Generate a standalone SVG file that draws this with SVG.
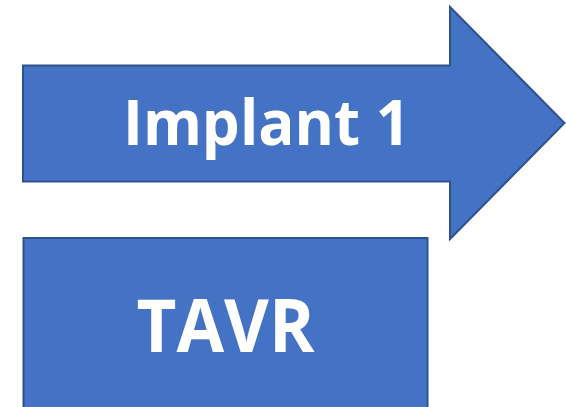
<svg xmlns="http://www.w3.org/2000/svg" width="566" height="407" viewBox="0 0 566 407">
<style>
.shape{fill:#4472C4;stroke:#2F528F;stroke-width:2;stroke-linejoin:miter}
.lbl{fill:#FFFFFF;font-family:"Open Sans","Noto Sans","Liberation Sans",sans-serif;font-weight:bold;text-anchor:middle}
</style>
<rect width="566" height="407" fill="#FFFFFF"/>
<g id="implant1">
<polygon class="shape" points="23,65.5 450,65.5 450,7 564.5,123 450,239 450,181.5 23,181.5"/>
<text class="lbl" x="266.5" y="145" font-size="62" textLength="287" lengthAdjust="spacingAndGlyphs">Implant 1</text>
</g>
<g id="tavr">
<rect class="shape" x="23.5" y="238" width="404" height="180"/>
<text class="lbl" x="225.5" y="352" font-size="74" textLength="178" lengthAdjust="spacingAndGlyphs">TAVR</text>
</g>
<g id="connectors"></g>
</svg>
